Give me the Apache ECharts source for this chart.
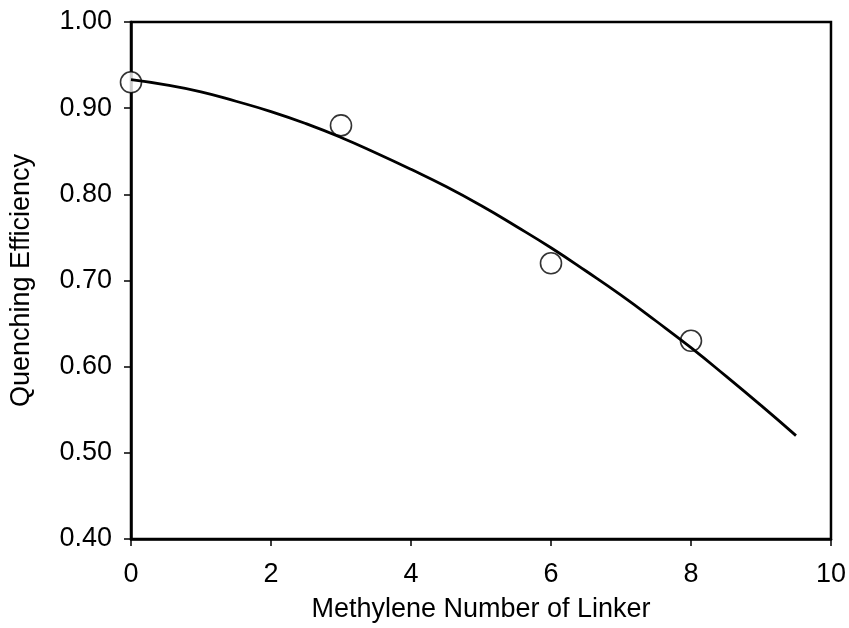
<!DOCTYPE html>
<html>
<head>
<meta charset="utf-8">
<script src="https://cdn.jsdelivr.net/npm/echarts@6/dist/echarts.min.js"></script>
<style>
  html, body { margin: 0; padding: 0; background: #fff; }
  #main { width: 849px; height: 628px; }
</style>
</head>
<body>
<div id="main"></div>
<script>
// measured points
var pointX = [0, 3, 6, 8];
var pointY = [0.93, 0.88, 0.72, 0.63];

// fitted curve
var curveX = [0, 0.5, 1, 1.5, 2, 2.5, 3, 3.5, 4, 4.5, 5, 5.5, 6, 6.5, 7, 7.5, 8, 8.5, 9, 9.5];
var curveY = [0.933, 0.927, 0.919, 0.908, 0.896, 0.882, 0.866, 0.848, 0.829, 0.809,
              0.787, 0.763, 0.738, 0.711, 0.683, 0.653, 0.622, 0.589, 0.555, 0.520];

var font = 'Liberation Sans, Arial, sans-serif';

var myChart = echarts.init(document.getElementById('main'));
var option = {
    backgroundColor: '#fff',
    animation: false,
    grid: {
        left: 131, right: 18, top: 22, bottom: 88,
        show: true, borderColor: '#000', borderWidth: 2.5,
        backgroundColor: 'transparent'
    },
    xAxis: {
        type: 'value',
        min: 0, max: 10, interval: 2,
        name: 'Methylene Number of Linker',
        nameLocation: 'middle',
        nameGap: 57,
        nameTextStyle: { color: '#000', fontSize: 27, fontFamily: font },
        axisLine: { lineStyle: { color: '#000', width: 2.5 } },
        axisTick: { inside: false, length: 7, lineStyle: { color: '#000', width: 1.5 } },
        axisLabel: { color: '#000', fontSize: 27, fontFamily: font, margin: 22 },
        splitLine: { show: false }
    },
    yAxis: {
        type: 'value',
        min: 0.4, max: 1.0, interval: 0.1,
        name: 'Quenching Efficiency',
        nameLocation: 'middle',
        nameGap: 96,
        nameTextStyle: { color: '#000', fontSize: 27, fontFamily: font },
        axisLine: { lineStyle: { color: '#000', width: 2.5 } },
        axisTick: { inside: false, length: 7, lineStyle: { color: '#000', width: 1.5 } },
        axisLabel: {
            color: '#000', fontSize: 27, fontFamily: font, margin: 19,
            formatter: function (v) { return v.toFixed(2); }
        },
        splitLine: { show: false }
    },
    series: [
        {
            type: 'scatter',
            data: pointX.map(function (x, i) { return [x, pointY[i]]; }),
            symbol: 'circle',
            symbolSize: 21,
            itemStyle: { color: '#fff', borderColor: '#000', borderWidth: 1.6 },
            z: 2
        },
        {
            type: 'line',
            data: curveX.map(function (x, i) { return [x, curveY[i]]; }),
            smooth: true,
            showSymbol: false,
            lineStyle: { color: '#000', width: 2.8 },
            z: 3
        }
    ]
};
myChart.setOption(option);
</script>
</body>
</html>
